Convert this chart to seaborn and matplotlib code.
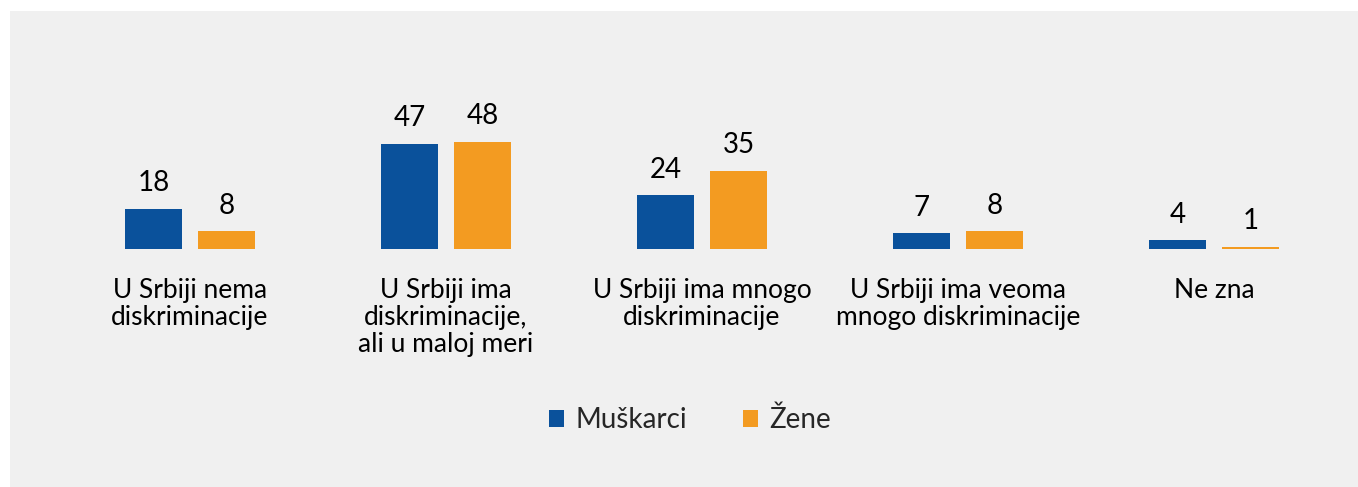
import pandas as pd
import matplotlib.pyplot as plt
import matplotlib.patches as mpatches
import seaborn as sns

# Podaci
kategorije = [
    "U Srbiji nema\ndiskriminacije",
    "U Srbiji ima\ndiskriminacije,\nali u maloj meri",
    "U Srbiji ima mnogo\ndiskriminacije",
    "U Srbiji ima veoma\nmnogo diskriminacije",
    "Ne zna",
]
muskarci = [18, 47, 24, 7, 4]
zene = [8, 48, 35, 8, 1]
serije = ["Muškarci", "Žene"]
boje = ["#0A519B", "#F39B21"]

df = pd.DataFrame({
    "kategorija": kategorije * 2,
    "vrednost": muskarci + zene,
    "pol": [serije[0]] * len(kategorije) + [serije[1]] * len(kategorije),
})

sns.set_theme(style="white")
plt.rcParams["font.family"] = ["Lato", "DejaVu Sans"]

fig = plt.figure(figsize=(13.58, 4.87), dpi=100)
fig.patch.set_facecolor("white")
# sivi panel
panel = mpatches.Rectangle((10 / 1358, 0), 1348 / 1358, 476 / 487,
                           transform=fig.transFigure, facecolor="#F0F0F0",
                           edgecolor="none", zorder=-10)
fig.add_artist(panel)

ax = fig.add_axes([62 / 1358, (487 - 249) / 487, 1280 / 1358, 189 / 487])
ax.set_facecolor("none")
ax.set_zorder(5)

sns.barplot(data=df, x="kategorija", y="vrednost", hue="pol", palette=boje,
            width=0.57, gap=0.219, saturation=1, linewidth=0, ax=ax)

for cont in ax.containers:
    ax.bar_label(cont, padding=9, fontsize=20, color="black")

ax.set_xlim(-0.5, 4.5)
ax.set_ylim(0, 84.6)
ax.set_xlabel("")
ax.set_ylabel("")
ax.set_yticks([])
ax.tick_params(axis="x", length=0, pad=21, labelsize=19, labelcolor="black")
for lbl in ax.get_xticklabels():
    lbl.set_linespacing(1.1)
sns.despine(ax=ax, left=True, bottom=True)

handles = [mpatches.Patch(facecolor=c, edgecolor="none") for c in boje]
ax.legend(handles, serije, loc="center", bbox_to_anchor=(690 / 1358, 67 / 487),
          bbox_transform=fig.transFigure, ncol=2, frameon=False, fontsize=20,
          handlelength=0.55, handleheight=0.55, handletextpad=0.4, columnspacing=2.0)

fig.savefig("out.png", dpi=100)
